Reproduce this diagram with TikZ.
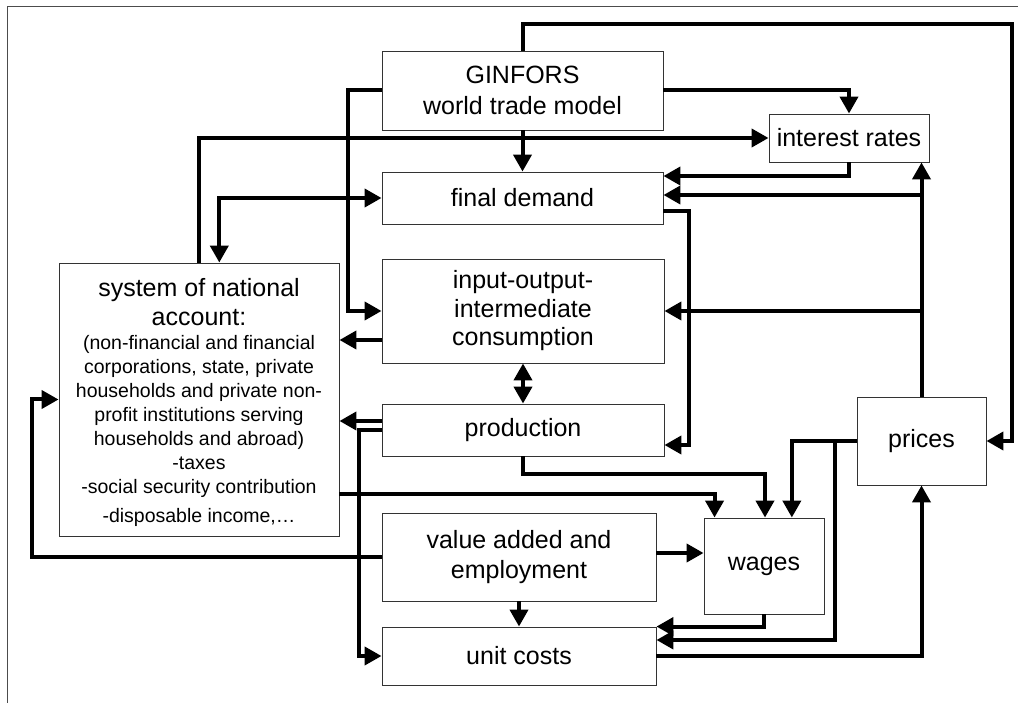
\documentclass[tikz,border=0pt]{standalone}
\usepackage{fontspec}
\setmainfont{Liberation Sans}
\usetikzlibrary{arrows.meta,calc}
\begin{document}
\begin{tikzpicture}[x=1pt,y=-1pt,
  box/.style={draw=black!80, line width=0.9pt, inner sep=0pt, align=center,
    font=\fontsize{25}{29}\selectfont},
  conn/.style={line width=4pt, -{Triangle[length=17pt,width=18pt]}},
  conntwo/.style={line width=4pt, {Triangle[length=17pt,width=18pt]}-{Triangle[length=17pt,width=18pt]}},
  frameline/.style={draw=black!70, line width=1pt}]
\useasboundingbox (0,0) rectangle (1018,703);
\draw[frameline] (1018,7) -- (7,7) -- (7,703);

% boxes
\node[box, minimum width=281pt, minimum height=79pt, font=\fontsize{25}{31}\selectfont] (gin) at (522.5,90.5) {GINFORS\\world trade model};
\node[box, minimum width=281pt, minimum height=52pt] (fd) at (522.5,198) {final demand};
\node[box, minimum width=160pt, minimum height=48pt] (ir) at (849,138) {interest rates};
\node[box, minimum width=282pt, minimum height=104pt, font=\fontsize{25}{28.5}\selectfont] (io) at (523,311) {input-output-\\intermediate\\consumption};
\node[box, minimum width=282pt, minimum height=52pt] (prod) at (523,430) {production};
\node[box, minimum width=274pt, minimum height=88pt, font=\fontsize{25}{30}\selectfont] (va) at (519,557) {value added and\\employment};
\node[box, minimum width=274pt, minimum height=58pt] (uc) at (519,656) {unit costs};
\node[box, minimum width=120pt, minimum height=96pt] (wages) at (764,566) {wages};
\node[box, minimum width=129pt, minimum height=88pt] (prices) at (921.5,441) {prices};
\node[box, minimum width=280pt, minimum height=273pt, font=\fontsize{19.5}{24}\selectfont] (sna) at (199,399.5)
 {{\fontsize{25}{29}\selectfont\rule{0pt}{24pt}system of national}\\[4.5pt]
  {\fontsize{25}{29}\selectfont account:}\\[0pt]
  (non-financial and financial\\corporations, state, private\\households and private non-\\profit institutions serving\\households and abroad)\\-taxes\\-social security contribution\\[5pt]-disposable income,…};

% connectors
\draw[conn] (gin.north) |- (1012,24) |- (prices.east);
\draw[conn] (gin.east) -| (ir.north);
\draw[conn] (gin.west) -| ([xshift=-34pt]io.west) -- (io.west);
\draw[conn] (gin.south) -- (fd.north);
\draw[conn] (sna.north) |- (ir.west);
\draw[conntwo] (fd.west) -| (sna.north -| 219.3,0);
\draw[conn] (ir.south) |- ($(fd.east)+(0,-22)$);
\draw[conn] (prices.north) -- (prices.north |- ir.south);
\draw[conn] (prices.north |- 0,195) -- ($(fd.east)+(0,-3)$);
\draw[conn] (prices.north |- io.east) -- (io.east);
\draw[conn] ($(fd.east)+(0,13)$) -| (689,445) -- ($(prod.east)+(0,15)$);
\draw[conn] ($(io.west)+(0,29)$) -- (sna.east |- 0,340);
\draw[conntwo] (io.south) -- (prod.north);
\draw[conn] ($(prod.west)+(0,-9)$) -- (sna.east |- 0,421);
\draw[conn] (prod.west) -| ([xshift=-23pt]uc.west) -- (uc.west);
\draw[conn] (prod.south) |- ($(wages.north)+(1,-44)$) -- ($(wages.north)+(1,0)$);
\draw[conn] ($(sna.east)+(0,94)$) -| ($(wages.north west)+(11,0)$);
\draw[conn] (prices.west) -| ($(wages.north east)+(-32.6,0)$);
\draw[conn] ($(prices.west)+(-22,0)$) |- ($(uc.east)+(0,-16)$);
\draw[conn] ($(va.east)+(0,-4)$) -- (wages.west |- 0,553);
\draw[conn] (va.south) -- (uc.north);
\draw[conn] (wages.south) |- (uc.north east);
\draw[conn] (uc.east) -| (prices.south);
\draw[conn] (va.west) -| ([xshift=-27pt]sna.west) -- (sna.west);
\end{tikzpicture}
\end{document}
